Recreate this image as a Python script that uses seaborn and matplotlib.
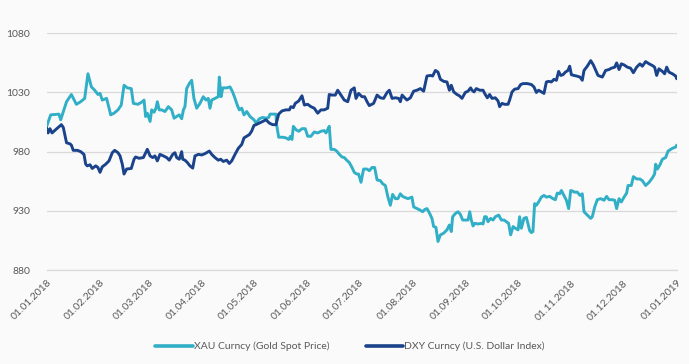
import matplotlib
matplotlib.use("Agg")
import matplotlib.dates as mdates
import matplotlib.pyplot as plt
import pandas as pd
import seaborn as sns


START = pd.Timestamp("2018-01-01")

# Days since 01.01.2018 and index values
xau_days = [
    0.0, 2.3, 7.1, 8.1, 11.5, 14.3, 17.2, 19.7, 22.0, 23.9, 25.9, 27.8, 29.7, 30.9, 32.2,
    34.7, 37.1, 39.0, 41.3, 43.2, 44.8, 46.7, 49.0, 50.2, 52.9, 55.4, 56.4, 57.3, 58.3,
    59.9, 60.8, 62.2, 63.3, 64.1, 65.2, 66.6, 68.5, 70.5, 72.4, 73.8, 75.3, 76.8, 78.2,
    79.2, 80.1, 81.1, 82.6, 84.0, 85.3, 86.9, 88.8, 90.7, 92.3, 93.6, 94.6, 95.6, 97.5,
    99.4, 100.0, 101.0, 102.0, 104.3, 106.2, 107.7, 109.1, 110.4, 111.6, 113.0, 114.3,
    115.9, 117.8, 120.1, 121.3, 123.2, 125.1, 127.1, 128.6, 129.4, 132.8, 133.2, 134.4,
    136.7, 138.6, 140.2, 141.2, 142.1, 142.9, 144.4, 146.0, 147.9, 149.8, 151.2, 153.1,
    155.0, 157.0, 158.9, 160.8, 161.8, 162.8, 163.7, 164.7, 166.6, 168.0, 169.5, 171.1,
    172.4, 173.8, 175.3, 176.9, 178.2, 179.6, 180.7, 182.1, 183.6, 185.6, 186.9, 188.5,
    190.0, 191.4, 193.3, 194.7, 196.2, 197.7, 199.1, 200.4, 202.0, 203.5, 204.9, 206.2,
    207.8, 209.3, 210.7, 211.6, 212.6, 214.5, 216.5, 217.8, 219.0, 220.3, 221.7, 223.2,
    224.2, 225.5, 226.7, 228.1, 230.0, 231.9, 233.3, 234.4, 235.2, 236.8, 238.3, 239.6,
    241.0, 242.9, 244.1, 245.1, 246.0, 247.0, 248.0, 249.9, 251.8, 252.8, 253.7, 254.7,
    255.7, 257.2, 258.6, 259.9, 261.9, 263.4, 265.0, 266.3, 267.6, 268.8, 270.2, 271.5,
    273.1, 274.0, 275.0, 276.5, 277.9, 278.8, 279.8, 280.8, 281.7, 282.7, 283.7, 285.0,
    286.6, 288.1, 289.5, 291.4, 293.3, 294.7, 295.8, 297.2, 298.2, 299.7, 301.1, 302.4,
    303.6, 304.9, 305.5, 307.4, 309.0, 310.3, 311.3, 313.2, 315.2, 316.1, 317.5, 319.0,
    321.0, 322.9, 324.4, 325.8, 327.7, 329.1, 330.2, 331.6, 332.9, 334.5, 336.0, 336.8,
    338.7, 339.9, 341.8, 343.7, 345.1, 347.0, 349.0, 350.9, 352.2, 352.8, 353.8, 355.3,
    356.7, 358.6, 360.0, 362.5, 364.4, 365.0,
]
xau_values = [
    1001.4, 1011.1, 1011.7, 1006.9, 1022.2, 1028.3, 1020.0, 1022.2, 1025.0, 1045.8, 1034.7,
    1031.9, 1028.3, 1029.2, 1023.6, 1025.0, 1011.1, 1012.5, 1015.3, 1019.4, 1036.1, 1033.9,
    1033.3, 1020.8, 1020.0, 1022.2, 1023.6, 1009.7, 1012.5, 1005.5, 1015.3, 1013.3, 1016.7,
    1022.2, 1015.3, 1015.3, 1013.9, 1018.0, 1015.3, 1008.3, 1009.7, 1011.1, 1007.8, 1015.3,
    1018.0, 1033.3, 1037.5, 1040.3, 1025.0, 1016.7, 1020.8, 1026.4, 1023.6, 1025.0, 1016.7,
    1023.6, 1025.0, 1026.4, 1043.0, 1026.4, 1033.9, 1033.9, 1034.7, 1030.5, 1025.0, 1019.4,
    1015.3, 1016.7, 1011.1, 1013.9, 1009.7, 1006.9, 1004.1, 1007.8, 1008.9, 1008.3, 1008.9,
    1011.7, 1011.7, 1002.8, 992.2, 992.2, 991.6, 990.3, 993.0, 990.3, 1001.4, 998.6, 997.2,
    999.4, 999.4, 993.0, 993.0, 996.6, 995.8, 997.2, 997.8, 995.8, 998.6, 1001.4, 981.9,
    981.9, 980.5, 977.8, 975.5, 975.0, 972.8, 970.8, 966.6, 962.5, 961.1, 961.1, 954.1,
    965.3, 965.3, 963.9, 966.6, 966.6, 956.1, 955.5, 952.8, 951.4, 941.6, 934.7, 943.9,
    940.3, 940.3, 944.4, 942.2, 941.1, 940.3, 941.1, 941.6, 933.3, 931.9, 930.5, 929.2,
    931.1, 931.9, 928.3, 923.6, 916.7, 916.1, 904.1, 909.7, 911.1, 913.9, 918.0, 912.5,
    925.0, 927.8, 929.2, 927.2, 922.2, 922.2, 922.2, 929.2, 922.2, 917.2, 919.4, 918.9,
    919.4, 918.9, 925.0, 925.0, 920.8, 923.6, 922.2, 925.0, 926.4, 922.2, 922.2, 920.8,
    919.4, 909.7, 916.7, 915.3, 913.9, 925.0, 915.3, 923.6, 924.4, 919.4, 913.3, 911.6,
    912.5, 936.1, 934.7, 937.5, 941.6, 943.0, 941.6, 942.2, 940.3, 939.4, 945.0, 944.4,
    947.2, 943.0, 938.9, 931.9, 947.2, 946.6, 945.8, 945.8, 943.0, 944.4, 929.2, 926.4,
    923.6, 925.0, 933.3, 939.4, 940.3, 938.9, 942.2, 939.4, 939.4, 938.9, 931.9, 940.3,
    937.5, 941.6, 945.0, 951.4, 951.4, 958.9, 956.9, 956.9, 955.5, 951.4, 954.1, 957.8,
    961.1, 969.4, 965.3, 968.9, 973.6, 975.0, 980.5, 982.8, 983.9, 985.5,
]

dxy_days = [
    0.0, 0.8, 1.9, 3.1, 5.2, 8.5, 9.6, 11.5, 13.5, 14.3, 15.4, 17.8, 19.7, 21.6, 22.6,
    23.5, 25.1, 26.4, 28.4, 29.7, 30.9, 32.2, 34.2, 36.1, 38.0, 39.4, 41.3, 42.5, 43.8,
    44.8, 46.3, 49.0, 50.6, 51.5, 53.5, 56.0, 58.3, 59.9, 61.4, 62.7, 64.1, 65.6, 67.6,
    69.5, 71.0, 73.0, 74.3, 75.3, 76.8, 78.2, 78.8, 80.1, 81.5, 83.0, 84.6, 85.9, 87.9,
    89.8, 91.7, 94.2, 95.6, 97.5, 99.4, 100.8, 102.3, 104.3, 105.8, 107.2, 109.1, 111.0,
    113.0, 114.3, 115.9, 117.4, 118.7, 120.1, 121.3, 123.2, 125.1, 127.1, 129.0, 130.9,
    132.8, 134.4, 136.3, 138.6, 140.6, 141.5, 142.9, 144.0, 146.0, 147.9, 149.3, 151.2,
    153.1, 155.0, 157.0, 158.9, 160.8, 162.8, 163.7, 165.3, 167.2, 168.6, 170.5, 172.4,
    174.4, 176.3, 178.2, 179.2, 180.7, 182.7, 184.2, 185.6, 186.9, 189.4, 191.4, 193.3,
    195.2, 197.2, 198.5, 200.1, 202.0, 203.9, 204.9, 205.9, 207.4, 208.7, 210.7, 212.6,
    214.5, 216.5, 218.4, 220.3, 222.3, 223.6, 225.2, 226.7, 228.1, 230.0, 231.9, 233.3,
    234.4, 235.8, 237.7, 239.1, 240.6, 242.5, 244.1, 245.6, 246.4, 247.6, 248.9, 250.9,
    252.8, 254.1, 255.3, 256.6, 258.0, 259.9, 261.5, 262.4, 263.8, 265.3, 267.3, 268.2,
    269.6, 271.1, 273.1, 274.6, 276.0, 278.5, 280.8, 282.3, 283.7, 285.0, 286.6, 288.1,
    289.5, 290.8, 292.4, 293.9, 295.3, 296.6, 297.8, 299.1, 300.5, 302.0, 303.0, 304.0,
    305.5, 307.0, 309.0, 310.3, 311.3, 313.2, 315.2, 316.7, 318.1, 319.4, 321.9, 323.8,
    325.8, 327.1, 329.1, 330.2, 331.6, 332.9, 334.5, 336.4, 338.3, 339.9, 341.8, 343.7,
    345.1, 347.0, 349.0, 350.9, 352.2, 353.4, 354.7, 356.7, 358.0, 359.2, 360.5, 362.5,
    364.4, 365.0,
]
dxy_values = [
    1000.0, 995.8, 999.4, 995.8, 998.6, 1002.8, 1000.5, 987.5, 986.6, 985.5, 981.1, 981.1,
    980.0, 977.7, 969.4, 968.0, 968.9, 965.8, 968.0, 966.6, 962.5, 967.2, 969.4, 972.2,
    979.1, 981.1, 979.1, 976.4, 969.4, 961.1, 965.3, 965.8, 973.6, 975.5, 974.4, 975.0,
    982.0, 976.4, 975.0, 976.4, 972.2, 977.7, 976.4, 975.0, 972.8, 977.7, 979.1, 975.0,
    973.6, 980.0, 973.6, 972.8, 970.8, 968.0, 966.1, 976.4, 977.7, 977.2, 978.3, 980.5,
    977.7, 975.0, 972.8, 973.6, 971.7, 972.8, 970.0, 972.2, 977.7, 982.8, 986.1, 991.6,
    993.0, 994.4, 997.2, 1002.2, 1002.8, 1004.1, 1005.5, 1006.9, 1004.1, 1002.8, 1002.8,
    1011.7, 1014.4, 1015.3, 1015.3, 1018.0, 1017.2, 1020.8, 1022.8, 1027.2, 1019.4, 1020.0,
    1018.0, 1016.7, 1012.5, 1015.3, 1015.3, 1016.7, 1028.3, 1027.8, 1027.8, 1031.9, 1027.8,
    1023.6, 1022.2, 1031.9, 1033.9, 1025.0, 1029.2, 1026.4, 1026.4, 1022.2, 1018.9, 1020.8,
    1027.8, 1025.5, 1025.0, 1030.0, 1031.9, 1025.0, 1025.5, 1025.0, 1022.2, 1027.8, 1025.5,
    1023.6, 1025.5, 1031.1, 1031.9, 1033.3, 1031.1, 1043.9, 1044.4, 1043.9, 1048.6, 1047.2,
    1041.1, 1039.4, 1038.9, 1031.9, 1036.1, 1030.5, 1028.3, 1027.2, 1025.0, 1030.0, 1031.1,
    1033.9, 1031.9, 1030.5, 1033.3, 1031.9, 1031.9, 1028.3, 1025.5, 1028.3, 1025.0, 1025.5,
    1022.8, 1018.0, 1020.8, 1020.0, 1020.0, 1023.6, 1030.5, 1032.8, 1033.3, 1036.7, 1037.5,
    1037.5, 1036.7, 1034.7, 1030.0, 1031.9, 1030.5, 1029.2, 1038.9, 1039.4, 1038.9, 1041.1,
    1040.3, 1047.8, 1044.4, 1045.0, 1047.2, 1048.6, 1052.2, 1045.0, 1044.4, 1043.9, 1043.0,
    1040.3, 1048.6, 1052.2, 1056.9, 1053.3, 1048.6, 1044.4, 1043.0, 1048.6, 1049.4, 1050.5,
    1051.4, 1055.0, 1049.4, 1054.2, 1053.3, 1051.4, 1050.5, 1046.7, 1051.4, 1054.2, 1052.2,
    1056.1, 1054.2, 1052.8, 1051.4, 1044.4, 1050.0, 1047.8, 1045.8, 1051.4, 1047.2, 1045.8,
    1043.9, 1041.6,
]

XAU_LABEL = "XAU Curncy (Gold Spot Price)"
DXY_LABEL = "DXY Curncy (U.S. Dollar Index)"
y_ticks = [880, 930, 980, 1030, 1080]
x_ticks = pd.date_range("2018-01-01", "2019-01-01", freq="MS")

COLORS = {XAU_LABEL: "#31AFC7", DXY_LABEL: "#1B438B"}
BG = "#FAFAFA"


def build_frame() -> pd.DataFrame:
    xau = pd.DataFrame({
        "date": START + pd.to_timedelta(xau_days, unit="D"),
        "value": xau_values,
        "series": XAU_LABEL,
    })
    dxy = pd.DataFrame({
        "date": START + pd.to_timedelta(dxy_days, unit="D"),
        "value": dxy_values,
        "series": DXY_LABEL,
    })
    return pd.concat([xau, dxy], ignore_index=True)


def main() -> None:
    sns.set_style("white")
    plt.rcParams["font.family"] = ["Lato", "DejaVu Sans"]

    df = build_frame()

    fig = plt.figure(figsize=(6.89, 3.64), dpi=100, facecolor=BG)
    ax = fig.add_axes([46.7 / 689, 1 - 270 / 364, 630 / 689, (270 - 33.3) / 364])
    ax.set_facecolor(BG)

    sns.lineplot(data=df, x="date", y="value", hue="series", palette=COLORS,
                 estimator=None, sort=False, linewidth=2.1, ax=ax, legend=False)

    ax.set_xlim(START, pd.Timestamp("2019-01-01"))
    ax.set_ylim(880, 1080)
    ax.set_yticks(y_ticks)
    ax.set_xticks(x_ticks)
    ax.xaxis.set_major_formatter(mdates.DateFormatter("%d.%m.%Y"))
    ax.set_xlabel("")
    ax.set_ylabel("")

    ax.grid(axis="y", color="#D9D9D9", linewidth=0.9)
    ax.set_axisbelow(True)
    for side in ["left", "right", "top"]:
        ax.spines[side].set_visible(False)
    ax.spines["bottom"].set_color("#D9D9D9")
    ax.spines["bottom"].set_linewidth(0.9)

    ax.tick_params(axis="y", length=0, pad=12, labelsize=7.5, labelcolor="#595959")
    ax.tick_params(axis="x", length=4, width=0.9, color="#D9D9D9", pad=2,
                   labelsize=7.5, labelcolor="#595959")
    for label in ax.get_xticklabels():
        label.set_rotation(45)
        label.set_ha("right")
        label.set_rotation_mode("anchor")

    handles = [plt.Line2D([], [], color=COLORS[XAU_LABEL], linewidth=2.6),
               plt.Line2D([], [], color=COLORS[DXY_LABEL], linewidth=2.6)]
    fig.legend(handles, [XAU_LABEL, DXY_LABEL], loc="center",
               bbox_to_anchor=(350 / 689, 1 - 346.7 / 364), ncol=2, frameon=False,
               fontsize=7.5, labelcolor="#595959", handlelength=3.6, handletextpad=0.1,
               columnspacing=3.5)

    fig.savefig("out.png", dpi=100, facecolor=BG)
    plt.close(fig)


if __name__ == "__main__":
    main()
